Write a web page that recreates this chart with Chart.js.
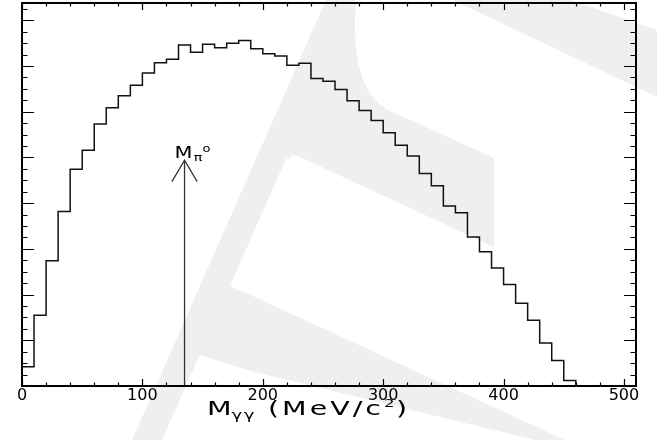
<!DOCTYPE html>
<html><head><meta charset="utf-8">
<script src="https://cdn.jsdelivr.net/npm/chart.js@4/dist/chart.umd.min.js"></script>
<style>html,body{margin:0;padding:0;background:#fff;}</style>
</head><body>
<canvas id="c" width="657" height="440"></canvas>
<script>
// ---- data ----
const binLow = [0,10,20,30,40,50,60,70,80,90,100,110,120,130,140,150,160,170,180,190,200,210,220,230,240,250,260,270,280,290,300,310,320,330,340,350,360,370,380,390,400,410,420,430,440,450];
const counts = [42,155,274,382,474,516,573,609,635,658,685,707,715,746,730,748,740,750,756,738,727,722,702,706,673,667,649,624,603,581,554,527,503,465,438,394,379,326,294,258,222,181,144,94,56,12];
const histEnd = 460;
const xTickLabels = [0,100,200,300,400,500];
const xTickMarks = [0,20,40,60,80,100,120,140,160,180,200,220,240,260,280,300,320,340,360,380,400,420,440,460,480,500];
const yTickMarks = [0,25,50,75,100,125,150,175,200,225,250,275,300,325,350,375,400,425,450,475,500,525,550,575,600,625,650,675,700,725,750,775,800,825];
const arrowX = 135, arrowTipY = 494, arrowWingY = 447, arrowWingDx = 10.5;
const xMax = 510, yMax = 838;

const histPoints = binLow.map((b,i)=>({x:b, y:counts[i]}));
histPoints.push({x:histEnd, y:0});
const arrowShaft = [{x:arrowX,y:0},{x:arrowX,y:arrowTipY}];
const arrowHead = [{x:arrowX-arrowWingDx,y:arrowWingY},{x:arrowX,y:arrowTipY},{x:arrowX+arrowWingDx,y:arrowWingY}];

const FONT = '"DejaVu Sans", sans-serif';

function drawPieces(ctx, pieces, x, y, sx){
  ctx.save();
  ctx.translate(x, y);
  ctx.scale(sx, 1);
  let cx = 0;
  for (const [t, size, dy, sp] of pieces){
    ctx.font = size + 'px ' + FONT;
    ctx.letterSpacing = (sp||0) + 'px';
    ctx.fillText(t, cx, dy);
    cx += ctx.measureText(t).width;
  }
  ctx.restore();
}

function poly(ctx, pts){
  ctx.beginPath();
  ctx.moveTo(pts[0][0], pts[0][1]);
  for (let i = 1; i < pts.length; i++) ctx.lineTo(pts[i][0], pts[i][1]);
  ctx.closePath(); ctx.fill();
}

const watermark = {
  id:'watermark',
  beforeDraw(chart){
    const ctx = chart.ctx;
    ctx.save();
    ctx.fillStyle = '#efefef';
    // spine
    poly(ctx, [[326,0],[356,0],[162,440],[132,440]]);
    // top-right stripe
    poly(ctx, [[453,0],[571,0],[657,30],[657,97]]);
    // middle arm with curved inner corner
    ctx.beginPath();
    ctx.moveTo(330,0); ctx.lineTo(356,0);
    ctx.quadraticCurveTo(348,98,397,114);
    ctx.lineTo(494,158); ctx.lineTo(494,247); ctx.lineTo(302,158);
    ctx.quadraticCurveTo(292,152,288,160);
    ctx.lineTo(280,140); ctx.closePath(); ctx.fill();
    // bottom arm
    ctx.beginPath();
    ctx.moveTo(212,270); ctx.lineTo(230,282);
    ctx.quadraticCurveTo(232,290,242,291);
    ctx.lineTo(565,440); ctx.lineTo(535,440); ctx.lineTo(251,371); ctx.lineTo(190,352); ctx.closePath(); ctx.fill();
    ctx.restore();
  }
};

const frame = {
  id:'frame',
  afterDatasetsDraw(chart){
    const {ctx, chartArea:a, scales:{x, y}} = chart;
    ctx.save();
    ctx.strokeStyle = '#000';
    ctx.lineWidth = 1.2;
    ctx.beginPath();
    xTickMarks.forEach(v=>{
      const px = Math.round(x.getPixelForValue(v)) + 0.5;
      const L = v % 100 === 0 ? 7 : 3.5;
      ctx.moveTo(px, a.bottom); ctx.lineTo(px, a.bottom - L);
      ctx.moveTo(px, a.top); ctx.lineTo(px, a.top + L);
    });
    yTickMarks.forEach(v=>{
      const py = Math.round(y.getPixelForValue(v)) + 0.5;
      const L = v % 100 === 0 ? 12 : 5.5;
      ctx.moveTo(a.left, py); ctx.lineTo(a.left + L, py);
      ctx.moveTo(a.right, py); ctx.lineTo(a.right - L, py);
    });
    ctx.stroke();
    ctx.lineWidth = 2;
    ctx.strokeRect(a.left, a.top, a.right - a.left, a.bottom - a.top);
    // texts
    ctx.fillStyle = '#000';
    ctx.textBaseline = 'alphabetic';
    const ax = x.getPixelForValue(arrowX);
    const ay = y.getPixelForValue(arrowTipY);
    drawPieces(ctx, [['M',16,0,1],['π',11,3,0],['o',10,-6,0]], ax - 10, ay - 2, 1.3);
    drawPieces(ctx, [['M',19,0,0],['γγ',12,4,1],[' (MeV/c',19,0,2],['2',11,-8,1],[')',19,0,0]], a.left + 185, a.bottom + 29, 1.5);
    ctx.restore();
  }
};

new Chart(document.getElementById('c'), {
  type:'line',
  data:{
    datasets:[
      {data:histPoints, stepped:true, borderColor:'#111', borderWidth:1.5, pointRadius:0, fill:false},
      {data:arrowShaft, borderColor:'#333', borderWidth:1.3, pointRadius:0, fill:false},
      {data:arrowHead, borderColor:'#333', borderWidth:1.3, pointRadius:0, fill:false}
    ]
  },
  options:{
    responsive:false, animation:false, devicePixelRatio:1,
    layout:{padding:{left:22, right:21, top:3, bottom:0}},
    plugins:{legend:{display:false}, tooltip:{enabled:false}},
    scales:{
      x:{type:'linear', min:0, max:xMax,
        grid:{display:false, drawTicks:false}, border:{display:false},
        afterBuildTicks:(s)=>{ s.ticks = xTickLabels.map(v=>({value:v})); },
        afterFit:(s)=>{ s.height = 54; },
        ticks:{color:'#000', padding:0, maxRotation:0, autoSkip:false, font:{family:FONT, size:16}}
      },
      y:{display:false, min:0, max:yMax}
    }
  },
  plugins:[watermark, frame]
});
</script>
</body></html>
